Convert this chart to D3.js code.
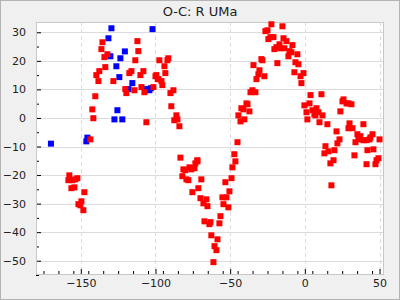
<!DOCTYPE html>
<html>
<head>
<meta charset="utf-8">
<script src="https://cdn.jsdelivr.net/npm/d3@7"></script>
<style>
  body { margin: 0; background: #f0f0f0; }
  svg { display: block; font-family: "DejaVu Sans", sans-serif; }
</style>
</head>
<body>
<div id="chart"></div>
<script>
// O-C values: [epoch offset, O-C]
var blueX = [-170, -129.5, -102, -131.5, -120.5, -130.2, -123.5, -126.2, -124.2, -115.5, -118.1, -105.8, -104.1, -103.1, -125.5, -127.5, -122.2, -145.6, -146.3];
var blueY = [-9, 31.4, 31.1, 27.9, 23.3, 21.6, 20.9, 18.1, 14.3, 12.2, 10.1, 10.1, 9.7, 10.4, 2.7, -0.5, -0.5, -6.9, -8.2];

var redX = [-135.5, -112.1, -136.2, -111.5, -132.2, -134.2, -113.5, -97.4, -133.6, -137.6, -139.6, -116.1, -117.5, -108.1, -110.1, -138.2, -128.2, -100, -99.4, -98.5,
  -109.4, -120.2, -119.5, -114.1, -107.4, -101.4, -140.3, -142.3, -141.6, -106.1, -143.6,
  -92, -91.4, -94, -93.4, -98, -96, -95.4, -88, -90, -89.4, -86, -87.4, -85.3, -84, -83.3, -72,
  -157.7, -158.3, -155.7, -153.7, -152.3, -156.3, -154.3, -147.6, -149.6, -151.6, -150.3, -148.3,
  -45.1, -47.2, -46.5, -81.3, -80, -77.3, -76, -73.9, -73.3, -71.9, -48.5, -82, -79.3, -78, -69.3, -49.1, -53.2, -71.3, -75.3, -50.5,
  -69.9, -65.9, -67.9, -65.2, -55.2, -52.5, -54.5, -51.2, -56.5, -67.2, -63.2, -63.9, -57.2, -62.6, -58.5, -60.5, -59.2, -61.2,
  -22.4, -15, -26.4, -25, -24.4, -23, -21, -14.3, -12.3, -8.3, -17, -19, -20.4, -16.3, -13.7, -10.3, -9, -11, -5,
  -29.1, -28.4, -34.4, -18.4, -6.3, -4.3, -30.4, -31.1, -32.4, -27.1, -7, -2.9, -0.9, -2.3, -35.1, -36.4, -33.1, 3.8,
  -39.1, -38.4, -42.5, -41.1, -37.1, -44.5, -43.1, -40.5, -0.3, 3.1,
  11.1, 1.1, 1.7, 5.1, 7.8, 9.1, 6.4, 11.8, 7.1, 9.8, 15.1, 23.8, 25.2, 25.9, 27.9, 31.2, 29.2, 21.2, 29.9, 29.2, 31.9, 39.2,
  23.2, 21.8, 35.2, 37.2, 35.9, 33.9, 39.2, 41.3, 43.3, 45.3, 43.9, 50, 13.8, 15.8, 13.1, 19.8, 19.2, 17.1, 33.2, 41.9, 45.9,
  41.3, 49.3, 48, 47.3, 17.8];
var redY = [26.5, 26.9, 24.1, 23.4, 22.3, 21.3, 20.2, 20.2, 17.8, 16.4, 15, 16.4, 15.7, 16.4, 15, 12.9, 12.9, 14.6, 15, 13.6,
  10.8, 10.1, 8.7, 9.7, 9, 10.8, 7.6, 3, -0.1, -1.5, -7.5,
  20.2, 20.9, 18.1, 15.7, 13.6, 12.9, 11.5, 9.7, 8.7, 4.1, 0.9, -0.8, -0.5, -2.9, -13.9, -14.8,
  -20.1, -21.8, -21.8, -21.5, -21.1, -24.6, -24.3, -26, -29.2, -30.2, -30.6, -32.3,
  -8.5, -12.7, -15.2, -18, -18.3, -17.3, -18, -17.6, -15.9, -15.2, -17.3, -20.4, -21.5, -21.8, -21.5, -21.1, -22.5, -24.6, -26, -25.7,
  -28.1, -28.5, -29.9, -30.9, -27.8, -27.8, -30.2, -31.3, -34.4, -36.2, -36.5, -37.2, -36.9, -41.1, -42.5, -44.9, -46.3, -50.5,
  32.8, 32.1, 30.4, 30.7, 27.6, 28.3, 28.3, 27.9, 26.9, 25.5, 25.8, 24.8, 24.1, 24.4, 24.4, 23.4, 23, 21.6, 22.3,
  20.6, 20.2, 18.5, 19.2, 19.5, 18.8, 16.7, 15.3, 13.6, 14.6, 16, 14.6, 15.7, 12.2, 9.7, 9, 9, 8,
  5.1, 4.8, 3.4, 3, 2.3, 0.9, -1.2, -0.5, 4.4, 5.1,
  8.3, 2, -0.5, 2.7, 3.4, 2, 1.3, 0.9, 0.9, -1.5, -2.2, 2.3, 5.8, 6.5, 5.1, 4.8, 5.1, -4.7, -1.9, -3.6, -3.6, -2.2,
  -7.5, -8.9, -5.7, -6.4, -7.5, -8.5, -7.8, -7.8, -7.5, -5.7, -6.8, -7.5, -9.9, -11.7, -12.4, -11.3, -14.8, -15.9, -13.1, -11.3, -11,
  -16.2, -14.1, -14.8, -16.2, -23.6];

var xTicks = [-150, -100, -50, 0, 50];
var yTicks = [-50, -40, -30, -20, -10, 0, 10, 20, 30];

var width = 400, height = 300;
var margin = {top: 22, right: 16, bottom: 25, left: 36};
var plotW = width - margin.left - margin.right;
var plotH = height - margin.top - margin.bottom;

var svg = d3.select("#chart").append("svg").attr("width", width).attr("height", height);

svg.append("rect").attr("x", 0.5).attr("y", 0.5).attr("width", width - 1).attr("height", height - 1)
  .attr("fill", "#f0f0f0").attr("stroke", "#b4b4b4");

svg.append("text").attr("x", width / 2).attr("y", 16).attr("text-anchor", "middle")
  .attr("font-size", 13).attr("fill", "#222").text("O-C: R UMa");

var xScale = d3.scaleLinear().domain([-180, 53]).range([0, plotW]);
var yScale = d3.scaleLinear().domain([-55, 33.6]).range([plotH, 0]);

var g = svg.append("g").attr("transform", `translate(${margin.left}, ${margin.top})`);

g.append("rect").attr("width", plotW).attr("height", plotH).attr("fill", "white");

// grid
g.selectAll(".ygrid").data(yTicks).enter().append("line")
  .attr("x1", 0).attr("x2", plotW)
  .attr("y1", d => Math.round(yScale(d)) + 0.5).attr("y2", d => Math.round(yScale(d)) + 0.5)
  .attr("stroke", "#dcdcdc");
g.selectAll(".xgrid").data(xTicks).enter().append("line")
  .attr("y1", 0).attr("y2", plotH)
  .attr("x1", d => Math.round(xScale(d)) + 0.5).attr("x2", d => Math.round(xScale(d)) + 0.5)
  .attr("stroke", "#dcdcdc").attr("stroke-dasharray", "4,3");

// axes with inward ticks
var leftAxis = d3.axisLeft(yScale).tickValues(yTicks).tickSize(-5).tickPadding(10).tickFormat(d3.format("d"));
var leftMinor = d3.axisLeft(yScale).tickValues(d3.range(-55, 34, 10)).tickSize(-3).tickFormat("");
var bottomAxis = d3.axisBottom(xScale).tickValues(xTicks).tickSize(-6).tickPadding(4).tickFormat(d3.format("d"));
var bottomMinor = d3.axisBottom(xScale).tickValues(d3.range(-175, 53, 10)).tickSize(-4).tickFormat("");

function styleAxis(sel) {
  sel.select(".domain").remove();
  sel.selectAll("line").attr("stroke", "#000");
  sel.selectAll("text").attr("font-size", 11).attr("fill", "#222").attr("font-family", "DejaVu Sans, sans-serif");
}

g.append("g").call(leftAxis).call(styleAxis);
g.append("g").call(leftMinor).call(styleAxis);
g.append("g").attr("transform", `translate(0, ${plotH})`).call(bottomAxis).call(styleAxis);
g.append("g").attr("transform", `translate(0, ${plotH})`).call(bottomMinor).call(styleAxis);

g.append("rect").attr("x", 0.5).attr("y", 0.5).attr("width", plotW - 1).attr("height", plotH - 1)
  .attr("fill", "none").attr("stroke", "#c8c8c8");

var s = 6;
var blue = blueX.map((x, i) => ({x: x, y: blueY[i]}));
var red = redX.map((x, i) => ({x: x, y: redY[i]}));

g.selectAll(".blue").data(blue).enter().append("rect")
  .attr("x", d => xScale(d.x) - s / 2).attr("y", d => yScale(d.y) - s / 2)
  .attr("width", s).attr("height", s).attr("fill", "#0000ff");

g.selectAll(".red").data(red).enter().append("rect")
  .attr("x", d => xScale(d.x) - s / 2).attr("y", d => yScale(d.y) - s / 2)
  .attr("width", s).attr("height", s).attr("fill", "#ff0000");
</script>
</body>
</html>
